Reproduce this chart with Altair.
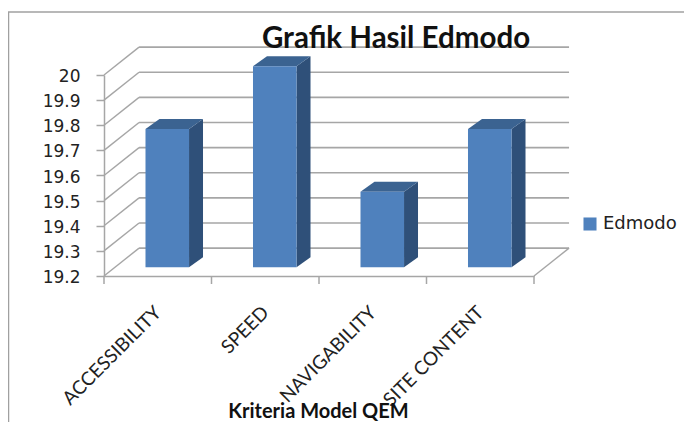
import altair as alt
import pandas as pd

categories = ["ACCESSIBILITY", "SPEED", "NAVIGABILITY", "SITE CONTENT"]
values = [19.75, 20.0, 19.5, 19.75]
y_ticks = [19.2, 19.3, 19.4, 19.5, 19.6, 19.7, 19.8, 19.9, 20.0]
series = "Edmodo"

# 3D projection, expressed in data units
WALL_DX, WALL_DY = 0.326, 0.111
BAR_DX, BAR_DY = 0.13, 0.04
BAR_START, BAR_WIDTH, BAR_LIFT = 0.386, 0.405, 0.035
BASE = y_ticks[0]
N = len(categories)

GRID = "#a6a6a6"
FRONT, SIDE, TOP = "#4f81bd", "#2f5079", "#3b6391"

xs = alt.Scale(domain=[0, N], nice=False, zero=False)
ys = alt.Scale(domain=[BASE, 20.0], nice=False, zero=False)

label_pos = [i + 0.5 for i in range(N)]
names = "[" + ",".join(f"'{c}'" for c in categories) + "]"

x_axis = alt.Axis(
    values=label_pos, grid=False, tickSize=0, domainColor=GRID, domainWidth=1.5,
    labelExpr=f"{names}[datum.value-0.5]", labelAngle=-45, labelAlign="right",
    labelBaseline="middle", labelPadding=33, labelFont="Lato", labelFontSize=19,
    labelColor="#222222", labelOverlap=False, labelBound=False, labelFlush=False,
    title="Kriteria Model  QEM", titleFont="Lato", titleFontSize=20, titleFontWeight="bold",
    titleColor="#111111", titleX=214, titleY=141, titleBaseline="alphabetic",
)
y_axis = alt.Axis(
    values=y_ticks, format="~g", grid=False, tickSize=8, tickColor=GRID, tickWidth=1.5,
    domainColor=GRID, domainWidth=1.5, labelFont="DejaVu Sans", labelFontSize=17,
    labelColor="#222222", labelPadding=16, labelOverlap=False, title=None,
    labelBound=False, labelFlush=False, labelOffset=1.5,
)
X = lambda f="x": alt.X(f"{f}:Q", scale=xs, axis=x_axis)
Y = lambda f="y": alt.Y(f"{f}:Q", scale=ys, axis=y_axis)

front, side, top = [], [], []
for i, (c, v) in enumerate(zip(categories, values)):
    l = i + BAR_START
    r = l + BAR_WIDTH
    t = v + BAR_LIFT
    b = BASE + BAR_LIFT
    front.append(dict(c=c, x=l, x2=r, y=b, y2=t, s=series))
    side += [dict(c=c, x=r, y=t, y2=b), dict(c=c, x=r + BAR_DX, y=t + BAR_DY, y2=b + BAR_DY)]
    top += [
        dict(c=c, x=l, y=t, y2=t),
        dict(c=c, x=l + BAR_DX, y=t, y2=t + BAR_DY),
        dict(c=c, x=r, y=t, y2=t + BAR_DY),
        dict(c=c, x=r + BAR_DX, y=t + BAR_DY, y2=t + BAR_DY),
    ]

back = pd.DataFrame([dict(x=WALL_DX, x2=N + WALL_DX, y=v + WALL_DY) for v in y_ticks])
diag = pd.DataFrame(
    [dict(k=str(v), x=0, y=v) for v in y_ticks]
    + [dict(k=str(v), x=WALL_DX, y=v + WALL_DY) for v in y_ticks]
    + [dict(k="floor", x=N, y=BASE), dict(k="floor", x=N + WALL_DX, y=BASE + WALL_DY)]
)
ticks = pd.DataFrame({"x": list(range(N + 1))})

back_lines = alt.Chart(back).mark_rule(color=GRID, strokeWidth=1.6).encode(
    x=X(), x2="x2:Q", y=Y()
)
diag_lines = alt.Chart(diag).mark_line(color=GRID, strokeWidth=1.4).encode(
    x=X(), y=Y(), detail="k:N"
)
x_ticks = alt.Chart(ticks).mark_rule(color=GRID, strokeWidth=1.5).encode(
    x=X(), y=alt.value(201), y2=alt.value(209)
)
frame_left = alt.Chart(ticks.head(1)).mark_rule(color="#a0a0a0", strokeWidth=1.5).encode(
    x=alt.value(-95.5), y=alt.value(-63), y2=alt.value(347)
)
frame_top = alt.Chart(ticks.head(1)).mark_rule(color="#a0a0a0", strokeWidth=1.5).encode(
    x=alt.value(-96), x2=alt.value(580), y=alt.value(-63)
)
side_faces = alt.Chart(pd.DataFrame(side)).mark_area(color=SIDE).encode(
    x=X(), y=Y(), y2="y2:Q", detail="c:N"
)
top_faces = alt.Chart(pd.DataFrame(top)).mark_area(color=TOP).encode(
    x=X(), y=Y(), y2="y2:Q", detail="c:N"
)
front_faces = alt.Chart(pd.DataFrame(front)).mark_bar().encode(
    x=X(), x2="x2:Q", y=Y(), y2="y2:Q",
    color=alt.Color(
        "s:N",
        scale=alt.Scale(domain=[series], range=[FRONT]),
        legend=alt.Legend(
            title=None, orient="none", legendX=477, legendY=140, symbolType="square",
            symbolSize=170, symbolStrokeWidth=0, labelFont="DejaVu Sans", labelFontSize=18,
            labelColor="#222222", labelOffset=4,
        ),
    ),
)

chart = (
    alt.layer(back_lines, diag_lines, x_ticks, frame_left, frame_top, side_faces, top_faces, front_faces)
    .properties(
        width=430,
        height=201,
        padding={"left": 96, "top": 67, "right": 150, "bottom": 146},
        autosize=alt.AutoSizeParams(type="none"),
        title=alt.Title(
            "Grafik Hasil Edmodo", font="Lato", fontSize=29.5, fontWeight="bold", color="#111111",
            anchor="middle", frame="group", dx=77, offset=28, dy=71,
        ),
    )
    .configure_view(stroke=None)
)
chart.save("out.html", embed_options={"renderer": "svg", "actions": False})
